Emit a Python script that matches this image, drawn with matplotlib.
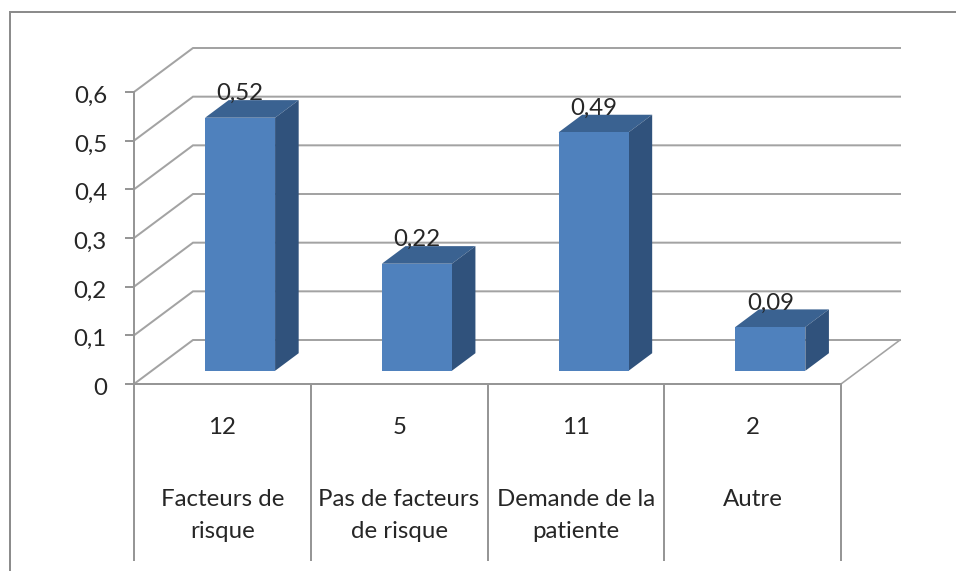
import numpy as np
import matplotlib
matplotlib.use("Agg")
import matplotlib.pyplot as plt
from matplotlib.lines import Line2D
from matplotlib.transforms import ScaledTranslation

categories = ["Facteurs de\nrisque", "Pas de facteurs\nde risque", "Demande de la\npatiente", "Autre"]
counts = ["12", "5", "11", "2"]
values = [0.52, 0.22, 0.49, 0.09]
value_labels = ["0,52", "0,22", "0,49", "0,09"]
yticks = [0, 0.1, 0.2, 0.3, 0.4, 0.5, 0.6]
ytick_labels = ["0", "0,1", "0,2", "0,3", "0,4", "0,5", "0,6"]

plt.rcParams["font.family"] = ["Lato", "DejaVu Sans"]
W, H = 956, 571
px = 72 / 100
GRID = "#a3a3a3"
AXIS = "#969696"
TXT = "#262626"
FRONT, SIDE, TOP = "#4f81bd", "#30527c", "#3a6291"
FS = 17.3

fig = plt.figure(figsize=(W / 100, H / 100), dpi=100)
ax = fig.add_axes([134 / W, (H - 384) / H, 707 / W, 292 / H])
ax.set_xlim(0, 4)
ax.set_ylim(0, 0.6)
ax.patch.set_visible(False)
for s in ax.spines.values():
    s.set_visible(False)

# outer frame of the picture
for xs, ys in [([9.5, 9.5], [12, H]), ([9.5, W], [12, 12])]:
    fig.add_artist(Line2D(np.array(xs) / W, 1 - np.array(ys) / H,
                          color="#8c8c8c", lw=2 * px))

# depth vector of the 3-D box in data units
DX, DY = 59 / (707 / 4), 44 / (292 / 0.6)

# walls and floor
for y in yticks:
    ax.plot([0, DX, 4 + DX], [y, y + DY, y + DY], color=GRID, lw=2 * px,
            clip_on=False, zorder=1, solid_joinstyle="miter")
ax.plot([4, 4 + DX], [0, DY], color=GRID, lw=1.6 * px, clip_on=False, zorder=1)

# axes lines, category separators
drop = -176 / (292 / 0.6)
for x in range(5):
    ax.plot([x, x], [drop, 0], color=AXIS, lw=2 * px, clip_on=False, zorder=2)
ax.plot([0, 0], [0, 0.6], color=AXIS, lw=2 * px, clip_on=False, zorder=2)
ax.plot([0, 4], [0, 0], color=AXIS, lw=2 * px, clip_on=False, zorder=2)

# bars
bw = 70 / (707 / 4)
d0, d1 = 0.3, 0.7
for i, v in enumerate(values):
    x0 = i + 0.5 - bw / 2 + d0 * DX
    x1 = x0 + bw
    y0 = d0 * DY
    y1 = y0 + v
    ddx, ddy = (d1 - d0) * DX, (d1 - d0) * DY
    ax.fill([x0, x1, x1 + ddx, x0 + ddx], [y1, y1, y1 + ddy, y1 + ddy],
            color=TOP, lw=0, clip_on=False, zorder=3)
    ax.fill([x1, x1 + ddx, x1 + ddx, x1], [y0, y0 + ddy, y1 + ddy, y1],
            color=SIDE, lw=0, clip_on=False, zorder=3)
    ax.fill([x0, x1, x1, x0], [y0, y0, y1, y1],
            color=FRONT, lw=0, clip_on=False, zorder=4)
    ax.annotate(value_labels[i], (i + 0.5 + d0 * DX, y1), xytext=(0, 24 * px),
                textcoords="offset points", ha="center", va="center",
                fontsize=FS, color=TXT, zorder=5, annotation_clip=False)

# y axis
ax.set_yticks(yticks)
ax.set_yticklabels(ytick_labels, fontsize=FS, color=TXT)
ax.tick_params(axis="y", length=9 * px, width=2 * px, color=AXIS, pad=18 * px)
ax.set_xticks([])
shift = ScaledTranslation(0, -2.5 / 100, fig.dpi_scale_trans)
for lab in ax.get_yticklabels():
    lab.set_transform(lab.get_transform() + shift)

# multi-level category labels
for i, (c, n) in enumerate(zip(categories, counts)):
    ax.annotate(n, (i + 0.5, 0), xytext=(0, -43 * px), textcoords="offset points",
                ha="center", va="center", fontsize=FS, color=TXT, annotation_clip=False)
    for k, line in enumerate(c.split("\n")):
        ax.annotate(line, (i + 0.5, 0), xytext=(0, (-116 - 32 * k) * px),
                    textcoords="offset points", ha="center", va="center",
                    fontsize=FS, color=TXT, annotation_clip=False)

fig.savefig("out.png", dpi=100, facecolor="white")
